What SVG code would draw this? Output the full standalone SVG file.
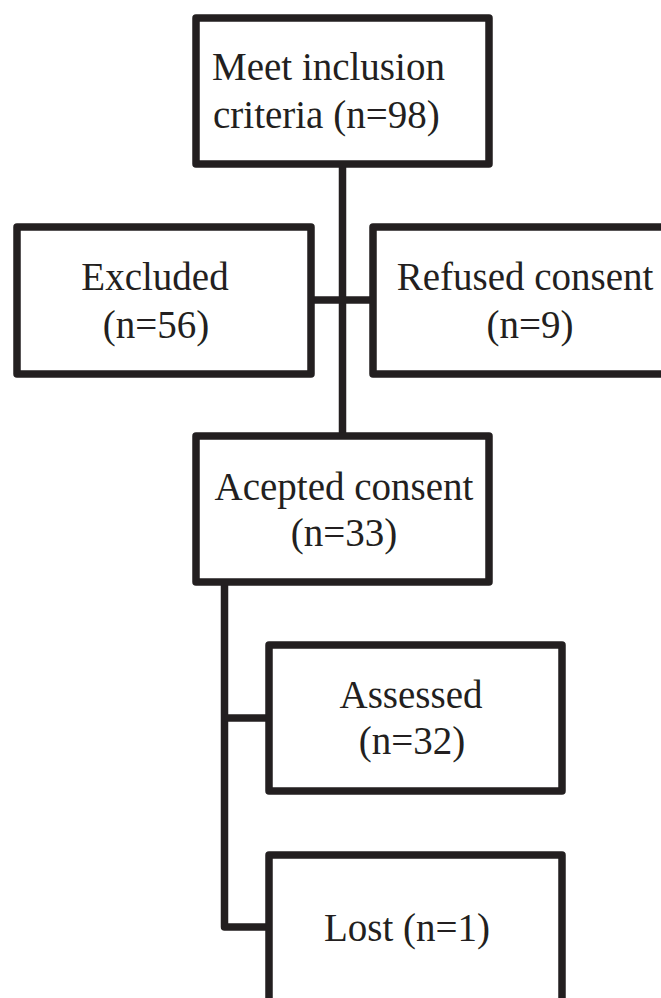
<svg xmlns="http://www.w3.org/2000/svg" width="661" height="998" viewBox="0 0 661 998">
  <style>
    .box { fill: #ffffff; stroke: #231f20; stroke-width: 7.5; stroke-linejoin: round; }
    .link { fill: none; stroke: #231f20; stroke-width: 7.5; stroke-linejoin: round; }
    .lbl { font-size: 39px; fill: #231f20; }
    .mid { text-anchor: middle; }
  </style>
  <rect width="661" height="998" fill="#ffffff"/>

  <g id="connectors">
    <path class="link" d="M342.5 164 V436"/>
    <path class="link" d="M311 300 H373"/>
    <path class="link" d="M224.5 582 V927 H269"/>
    <path class="link" d="M224.5 718 H269"/>
  </g>

  <g font-family="Liberation Serif, DejaVu Serif, serif">
    <g id="inclusion">
      <rect class="box" x="196" y="18" width="293" height="146"/>
      <text class="lbl" x="212" y="80">Meet inclusion</text>
      <text class="lbl" x="213" y="128">criteria (n=98)</text>
    </g>

    <g id="excluded">
      <rect class="box" x="17" y="227" width="294" height="147"/>
      <text class="lbl mid" x="155" y="290">Excluded</text>
      <text class="lbl mid" x="156" y="338">(n=56)</text>
    </g>

    <g id="refused">
      <rect class="box" x="373" y="227" width="300" height="147"/>
      <text class="lbl mid" x="525" y="290">Refused consent</text>
      <text class="lbl mid" x="530" y="338">(n=9)</text>
    </g>

    <g id="accepted">
      <rect class="box" x="196" y="436" width="293" height="146"/>
      <text class="lbl mid" x="344" y="500">Acepted consent</text>
      <text class="lbl mid" x="344" y="546">(n=33)</text>
    </g>

    <g id="assessed">
      <rect class="box" x="269" y="645" width="293" height="146"/>
      <text class="lbl mid" x="411" y="708">Assessed</text>
      <text class="lbl mid" x="412" y="754">(n=32)</text>
    </g>

    <g id="lost">
      <rect class="box" x="269" y="855" width="293" height="200"/>
      <text class="lbl mid" x="407" y="941">Lost (n=1)</text>
    </g>
  </g>
</svg>
